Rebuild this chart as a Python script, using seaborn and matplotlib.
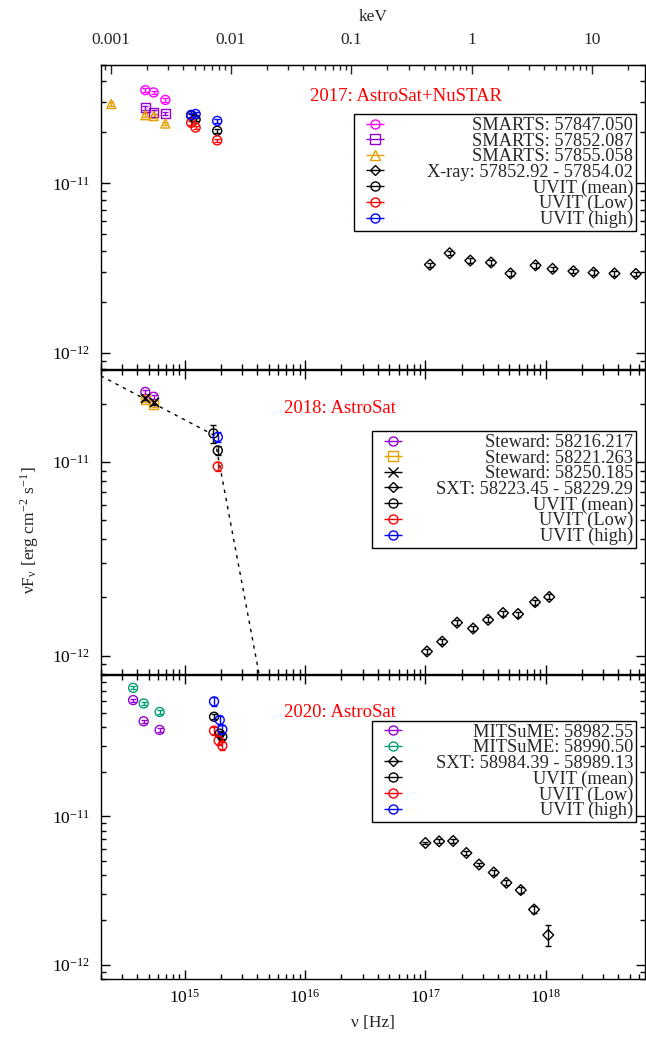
import numpy as np
import matplotlib
matplotlib.use('Agg')
import matplotlib.pyplot as plt
import matplotlib.ticker as mticker
import seaborn as sns

# ---- 2017: AstroSat+NuSTAR ----
smarts_nu = [4.70e14, 5.51e14, 6.89e14]
smarts_47_f = [3.54e-11, 3.43e-11, 3.10e-11]
smarts_52_f = [2.78e-11, 2.62e-11, 2.58e-11]
smarts_55_nu = [2.45e14, 4.70e14, 5.51e14, 6.89e14]
smarts_55_f = [2.93e-11, 2.52e-11, 2.49e-11, 2.25e-11]
uvit17_nu = [1.13e15, 1.23e15, 1.86e15]
uvit17_mean = [2.50e-11, 2.38e-11, 2.04e-11]
uvit17_low = [2.27e-11, 2.13e-11, 1.79e-11]
uvit17_high = [2.53e-11, 2.56e-11, 2.33e-11]
xray17_nu = [1.09e17, 1.59e17, 2.36e17, 3.51e17, 5.10e17, 8.23e17,
             1.14e18, 1.70e18, 2.50e18, 3.73e18, 5.61e18]
xray17_f = [3.31e-12, 3.87e-12, 3.50e-12, 3.41e-12, 2.94e-12, 3.28e-12,
            3.13e-12, 3.03e-12, 2.97e-12, 2.94e-12, 2.92e-12]

# ---- 2018: AstroSat ----
steward_nu = [4.70e14, 5.51e14]
steward_16_f = [2.31e-11, 2.18e-11]
steward_21_f = [2.10e-11, 1.98e-11]
steward_50_f = [2.15e-11, 2.04e-11]
uvit18_mean_nu = [1.73e15, 1.88e15]
uvit18_mean = [1.41e-11, 1.15e-11]
uvit18_mean_err = [1.5e-12, 0.6e-12]
uvit18_nu = [1.88e15]
uvit18_low = [9.5e-12]
uvit18_high = [1.35e-11]
sxt18_nu = [1.03e17, 1.38e17, 1.83e17, 2.49e17, 3.32e17, 4.42e17, 5.89e17, 8.15e17, 1.07e18]
sxt18_f = [1.05e-12, 1.18e-12, 1.48e-12, 1.38e-12, 1.53e-12, 1.66e-12, 1.64e-12, 1.89e-12, 2.01e-12]
model_nu = [2.0e14, 1.75e15, 4.3e15]
model_f = [2.8e-11, 1.38e-11, 7.1e-13]

# ---- 2020: AstroSat ----
mits_nu = [3.72e14, 4.55e14, 6.18e14]
mits_55_f = [6.07e-11, 4.37e-11, 3.82e-11]
mits_50_f = [7.34e-11, 5.76e-11, 5.05e-11]
uvit20_nu = [1.75e15, 1.95e15, 2.05e15]
uvit20_low_nu = [1.75e15, 1.91e15, 2.05e15]
uvit20_mean = [4.69e-11, 3.61e-11, 3.44e-11]
uvit20_low = [3.78e-11, 3.24e-11, 3.00e-11]
uvit20_high = [5.94e-11, 4.46e-11, 3.85e-11]
sxt20_nu = [1.0e17, 1.30e17, 1.70e17, 2.19e17, 2.79e17, 3.70e17, 4.71e17, 6.20e17, 8.00e17, 1.05e18]
sxt20_f = [6.62e-12, 6.79e-12, 6.83e-12, 5.67e-12, 4.74e-12, 4.19e-12, 3.57e-12, 3.19e-12, 2.36e-12, 1.59e-12]
sxt20_rel = [0.02, 0.03, 0.03, 0.03, 0.03, 0.04, 0.04, 0.05, 0.06, 0.16]

MAGENTA = '#ff00ff'
PURPLE = '#9400d3'
ORANGE = '#e69f00'
TEAL = '#009e73'

sns.set_style('ticks')
plt.rcParams['font.family'] = ['Liberation Serif', 'DejaVu Serif']
plt.rcParams['mathtext.fontset'] = 'stix'
plt.rcParams['font.size'] = 12.5

fig = plt.figure(figsize=(6.46, 10.42), dpi=100)
ax1 = fig.add_axes([0.1559, 0.6456, 0.8433, 0.2923])
ax2 = fig.add_axes([0.1559, 0.3529, 0.8433, 0.2920], sharex=ax1)
ax3 = fig.add_axes([0.1559, 0.0602, 0.8433, 0.2923], sharex=ax1)


def draw(ax, x, y, color, marker, rel=0.025, yerr=None, ms=42):
    y = np.asarray(y)
    if yerr is None:
        yerr = y * np.asarray(rel)
    ax.errorbar(x, y, yerr=yerr, fmt='none', ecolor=color, elinewidth=1, capsize=2, zorder=2)
    if marker == 'x':
        sns.scatterplot(x=x, y=y, ax=ax, marker='x', s=ms, color=color, linewidth=1.2, legend=False, zorder=3)
    else:
        sns.scatterplot(x=x, y=y, ax=ax, marker=marker, s=ms, facecolor='none', edgecolor=color,
                        linewidth=1, legend=False, zorder=3)


def proxy(ax, color, marker, label):
    return ax.errorbar([], [], xerr=[], fmt=marker, mfc='none', mec=color, color=color,
                       ms=6.5 if marker != 'D' else 5, mew=1, elinewidth=1, capsize=2.5, label=label)


# panel 1
draw(ax1, smarts_nu, smarts_47_f, MAGENTA, 'o')
draw(ax1, smarts_nu, smarts_52_f, PURPLE, 's')
draw(ax1, smarts_55_nu, smarts_55_f, ORANGE, '^')
draw(ax1, xray17_nu, xray17_f, 'black', 'D', rel=0.03, ms=30)
draw(ax1, uvit17_nu, uvit17_mean, 'black', 'o')
draw(ax1, uvit17_nu, uvit17_low, 'red', 'o')
draw(ax1, uvit17_nu, uvit17_high, 'blue', 'o')
h1 = [proxy(ax1, MAGENTA, 'o', 'SMARTS: 57847.050'),
      proxy(ax1, PURPLE, 's', 'SMARTS: 57852.087'),
      proxy(ax1, ORANGE, '^', 'SMARTS: 57855.058'),
      proxy(ax1, 'black', 'D', 'X-ray: 57852.92 - 57854.02'),
      proxy(ax1, 'black', 'o', 'UVIT (mean)'),
      proxy(ax1, 'red', 'o', 'UVIT (Low)'),
      proxy(ax1, 'blue', 'o', 'UVIT (high)')]

# panel 2
sns.lineplot(x=model_nu, y=model_f, ax=ax2, color='black', lw=1, sort=False, zorder=1)
ax2.lines[-1].set_linestyle((0, (2.5, 3.5)))
draw(ax2, steward_nu, steward_16_f, PURPLE, 'o')
draw(ax2, steward_nu, steward_21_f, ORANGE, 's')
draw(ax2, steward_nu, steward_50_f, 'black', 'x')
draw(ax2, sxt18_nu, sxt18_f, 'black', 'D', rel=0.03, ms=30)
draw(ax2, uvit18_mean_nu, uvit18_mean, 'black', 'o', yerr=uvit18_mean_err)
draw(ax2, uvit18_nu, uvit18_low, 'red', 'o', rel=0.05)
draw(ax2, uvit18_nu, uvit18_high, 'blue', 'o', rel=0.06)
h2 = [proxy(ax2, PURPLE, 'o', 'Steward: 58216.217'),
      proxy(ax2, ORANGE, 's', 'Steward: 58221.263'),
      proxy(ax2, 'black', 'x', 'Steward: 58250.185'),
      proxy(ax2, 'black', 'D', 'SXT: 58223.45 - 58229.29'),
      proxy(ax2, 'black', 'o', 'UVIT (mean)'),
      proxy(ax2, 'red', 'o', 'UVIT (Low)'),
      proxy(ax2, 'blue', 'o', 'UVIT (high)')]

# panel 3
draw(ax3, mits_nu, mits_55_f, PURPLE, 'o')
draw(ax3, mits_nu, mits_50_f, TEAL, 'o')
draw(ax3, sxt20_nu, sxt20_f, 'black', 'D', rel=sxt20_rel, ms=30)
draw(ax3, uvit20_nu, uvit20_mean, 'black', 'o', rel=0.04)
draw(ax3, uvit20_low_nu, uvit20_low, 'red', 'o', rel=0.06)
draw(ax3, uvit20_nu, uvit20_high, 'blue', 'o', rel=0.07)
h3 = [proxy(ax3, PURPLE, 'o', 'MITSuME: 58982.55'),
      proxy(ax3, TEAL, 'o', 'MITSuME: 58990.50'),
      proxy(ax3, 'black', 'D', 'SXT: 58984.39 - 58989.13'),
      proxy(ax3, 'black', 'o', 'UVIT (mean)'),
      proxy(ax3, 'red', 'o', 'UVIT (Low)'),
      proxy(ax3, 'blue', 'o', 'UVIT (high)')]

ylims = [(8e-13, 5e-11), (8e-13, 3e-11), (8e-13, 9e-11)]
titles = ['2017: AstroSat+NuSTAR', '2018: AstroSat', '2020: AstroSat']
title_pos = [(0.561, 0.894), (0.44, 0.875), (0.44, 0.876)]
# legend boxes anchored by their lower right corner
leg_anchor = [(0.9826, 0.454), (0.9826, 0.415), (0.9826, 0.516)]
text_pad = [1.85, 1.35, 1.35]

legends = []
for ax, yl, title, tp, la, hs, tpad in zip([ax1, ax2, ax3], ylims, titles, title_pos,
                                           leg_anchor, [h1, h2, h3], text_pad):
    ax.set_xscale('log')
    ax.set_yscale('log')
    ax.set_xlim(2.0e14, 6.75e18)
    ax.set_ylim(*yl)
    ax.set_xlabel('')
    ax.set_ylabel('')
    ax.yaxis.set_minor_formatter(mticker.NullFormatter())
    ax.xaxis.set_minor_locator(mticker.LogLocator(base=10, subs=np.arange(2, 10), numticks=50))
    ax.yaxis.set_minor_locator(mticker.LogLocator(base=10, subs=np.arange(2, 10), numticks=50))
    ax.tick_params(which='both', direction='in', top=True, right=True, width=1, colors='black', labelsize=12.5)
    ax.tick_params(which='major', length=6.5)
    ax.tick_params(which='minor', length=3.5)
    ax.tick_params(axis='y', which='major', pad=8)
    for s in ax.spines.values():
        s.set_linewidth(1)
        s.set_color('black')
    ax.text(tp[0], tp[1], title, transform=ax.transAxes, color='red', fontsize=13.5,
            ha='center', va='center')
    leg = ax.legend(handles=hs, loc='lower right', bbox_to_anchor=la, borderaxespad=0,
                    frameon=True, fancybox=False, framealpha=1, edgecolor='black',
                    fontsize=13.2, handlelength=2.0, handletextpad=tpad, borderpad=0.15,
                    labelspacing=-0.08, numpoints=1)
    leg.get_frame().set_linewidth(1)
    legends.append(leg)

ax1.tick_params(axis='x', which='both', top=False, labelbottom=False)
ax2.tick_params(axis='x', which='both', labelbottom=False)
ax3.tick_params(axis='x', which='major', pad=7)
ax3.set_xlabel('ν [Hz]', fontsize=12.5, labelpad=6)

# top energy axis
kev = 4.135667e-18
top = ax1.secondary_xaxis('top', functions=(lambda v: v * kev, lambda e: e / kev))
top.xaxis.set_major_locator(mticker.LogLocator(base=10, numticks=20))
top.xaxis.set_minor_locator(mticker.LogLocator(base=10, subs=np.arange(2, 10), numticks=50))
top.xaxis.set_major_formatter(mticker.FuncFormatter(lambda v, p: f'{v:g}'))
top.xaxis.set_minor_formatter(mticker.NullFormatter())
top.tick_params(which='both', direction='in', width=1, labelsize=12.5)
top.tick_params(which='major', length=6.5, pad=12)
top.tick_params(which='minor', length=3.5)
top.set_xlabel('keV', fontsize=12.5, labelpad=8)

fig.text(0.046, 0.491, 'νF$_\\mathregular{ν}$ [erg cm$^\\mathregular{-2}$ s$^\\mathregular{-1}$]',
         rotation=90, ha='center', va='center', fontsize=12.5)

# right-align the legend labels, sample on the left
fig.canvas.draw()
renderer = fig.canvas.get_renderer()
for leg in legends:
    texts = leg.get_texts()
    widths = [t.get_window_extent(renderer).width for t in texts]
    wmax = max(widths)
    for t, w in zip(texts, widths):
        t.set_position((wmax - w, 0))

fig.savefig('out.png', dpi=100)
